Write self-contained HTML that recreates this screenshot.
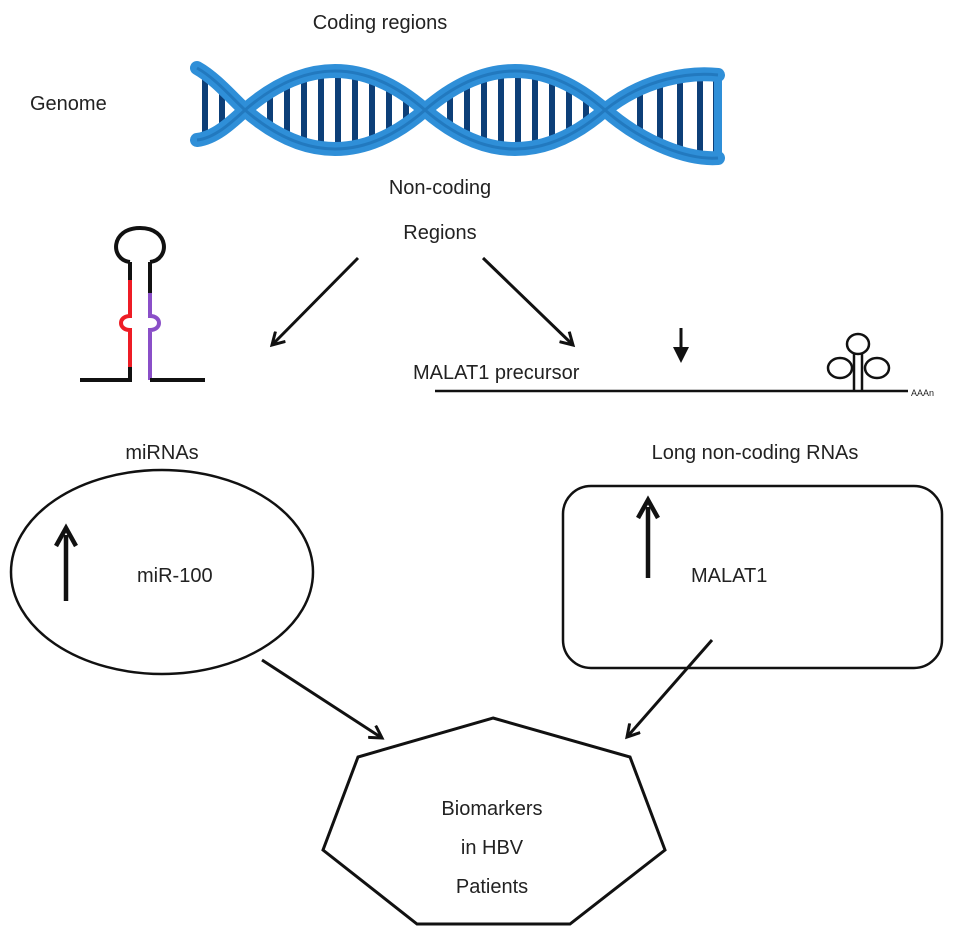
<!DOCTYPE html>
<html><head><meta charset="utf-8"><style>
html,body{margin:0;padding:0;background:#fff}
svg{display:block}
text{font-family:"Liberation Sans",Arial,sans-serif;fill:#222}
</style></head><body>
<svg width="969" height="940" viewBox="0 0 969 940" xmlns="http://www.w3.org/2000/svg">
<defs>
<marker id="ah" markerWidth="16" markerHeight="16" refX="13" refY="8" orient="auto" markerUnits="userSpaceOnUse">
<path d="M1,1 L13,8 L1,15" fill="none" stroke="#111" stroke-width="3"/>
</marker>
<clipPath id="lens">
<path d="M195,68 C215,78 232,98 245,110 C232,122 215,140 195,140 Z"/>
<path d="M245,110 C305,58 365,58 425,110 C365,162 305,162 245,110 Z"/>
<path d="M425,110 C485,58 545,58 605,110 C545,162 485,162 425,110 Z"/>
<path d="M605,110 C645,78 690,72 720,75 L720,160 C690,158 645,142 605,110 Z"/>
</clipPath>
</defs>

<text x="380" y="29" font-size="20" text-anchor="middle">Coding regions</text>
<text x="30" y="110" font-size="20">Genome</text>

<g clip-path="url(#lens)" stroke="#0d3f78" stroke-width="6">
<line x1="205" y1="50" x2="205" y2="170"/><line x1="222" y1="50" x2="222" y2="170"/>
<line x1="270" y1="50" x2="270" y2="170"/><line x1="287" y1="50" x2="287" y2="170"/>
<line x1="304" y1="50" x2="304" y2="170"/><line x1="321" y1="50" x2="321" y2="170"/>
<line x1="338" y1="50" x2="338" y2="170"/><line x1="355" y1="50" x2="355" y2="170"/>
<line x1="372" y1="50" x2="372" y2="170"/><line x1="389" y1="50" x2="389" y2="170"/>
<line x1="406" y1="50" x2="406" y2="170"/>
<line x1="450" y1="50" x2="450" y2="170"/><line x1="467" y1="50" x2="467" y2="170"/>
<line x1="484" y1="50" x2="484" y2="170"/><line x1="501" y1="50" x2="501" y2="170"/>
<line x1="518" y1="50" x2="518" y2="170"/><line x1="535" y1="50" x2="535" y2="170"/>
<line x1="552" y1="50" x2="552" y2="170"/><line x1="569" y1="50" x2="569" y2="170"/>
<line x1="586" y1="50" x2="586" y2="170"/>
<line x1="640" y1="50" x2="640" y2="170"/><line x1="660" y1="50" x2="660" y2="170"/>
<line x1="680" y1="50" x2="680" y2="170"/><line x1="700" y1="50" x2="700" y2="170"/>
<line x1="716" y1="50" x2="716" y2="170"/>
</g>
<g fill="none" stroke="#2f8fd8" stroke-width="14" stroke-linecap="round">
<path d="M197,140 C215,138 232,122 245,110 C305,58 365,58 425,110 C485,162 545,162 605,110 C645,145 690,160 718,158"/>
<path d="M197,68 C215,78 232,98 245,110 C305,162 365,162 425,110 C485,58 545,58 605,110 C645,78 690,72 718,75"/>
<line x1="718" y1="75" x2="718" y2="158" stroke-width="8"/>
</g>
<g fill="none" stroke="#1a6cb0" stroke-width="3" opacity="0.6">
<path d="M197,140 C215,138 232,122 245,110 C305,58 365,58 425,110 C485,162 545,162 605,110 C645,145 690,160 718,158"/>
<path d="M197,68 C215,78 232,98 245,110 C305,162 365,162 425,110 C485,58 545,58 605,110 C645,78 690,72 718,75"/>
</g>

<text x="440" y="194" font-size="20" text-anchor="middle">Non-coding</text>
<text x="440" y="239" font-size="20" text-anchor="middle">Regions</text>

<g stroke="#111" stroke-width="3" fill="none">
<line x1="358" y1="258" x2="272" y2="345" marker-end="url(#ah)"/>
<line x1="483" y1="258" x2="573" y2="345" marker-end="url(#ah)"/>
<line x1="262" y1="660" x2="382" y2="738" marker-end="url(#ah)"/>
<line x1="712" y1="640" x2="627" y2="737" marker-end="url(#ah)"/>
</g>

<g fill="none" stroke-width="4">
<path d="M130,262 C110,260 110,228 140,228 C170,228 170,260 150,262" stroke="#111"/>
<path d="M130,262 L130,280" stroke="#111"/>
<path d="M150,262 L150,293" stroke="#111"/>
<path d="M130,280 L130,316 C118,316 118,330 130,330 L130,367" stroke="#ee1c25"/>
<path d="M150,293 L150,316 C162,316 162,330 150,330 L150,380" stroke="#8a4fc8"/>
<path d="M130,367 L130,380 L80,380 M150,380 L205,380" stroke="#111"/>
</g>

<text x="413" y="379" font-size="20">MALAT1 precursor</text>
<line x1="681" y1="328" x2="681" y2="350" stroke="#111" stroke-width="3"/>
<path d="M673,347 L689,347 L681,363 Z" fill="#111"/>
<line x1="435" y1="391" x2="908" y2="391" stroke="#111" stroke-width="2.5"/>
<g fill="none" stroke="#111" stroke-width="2.5">
<line x1="854" y1="391" x2="854" y2="354"/><line x1="862" y1="391" x2="862" y2="354"/>
<ellipse cx="858" cy="344" rx="11" ry="10"/>
<ellipse cx="840" cy="368" rx="12" ry="10"/>
<ellipse cx="877" cy="368" rx="12" ry="10"/>
</g>
<text x="911" y="396" font-size="9" fill="#333">AAAn</text>

<text x="162" y="459" font-size="20" text-anchor="middle">miRNAs</text>
<text x="755" y="459" font-size="20" text-anchor="middle">Long non-coding RNAs</text>

<ellipse cx="162" cy="572" rx="151" ry="102" fill="none" stroke="#111" stroke-width="2.5"/>
<rect x="563" y="486" width="379" height="182" rx="28" fill="none" stroke="#111" stroke-width="2.5"/>
<g stroke="#111" stroke-width="4.5">
<line x1="66" y1="535" x2="66" y2="601"/><line x1="648" y1="507" x2="648" y2="578"/>
</g>
<path d="M56,546 L66,528 L76,546" fill="none" stroke="#111" stroke-width="4.5"/>
<path d="M638,518 L648,500 L658,518" fill="none" stroke="#111" stroke-width="4.5"/>
<text x="137" y="582" font-size="20">miR-100</text>
<text x="691" y="582" font-size="20">MALAT1</text>

<polygon points="493,718 630,757 665,850 570,924 417,924 323,850 358,757" fill="none" stroke="#111" stroke-width="3"/>
<text x="492" y="815" font-size="20" text-anchor="middle">Biomarkers</text>
<text x="492" y="854" font-size="20" text-anchor="middle">in HBV</text>
<text x="492" y="893" font-size="20" text-anchor="middle">Patients</text>
</svg>
</body></html>
